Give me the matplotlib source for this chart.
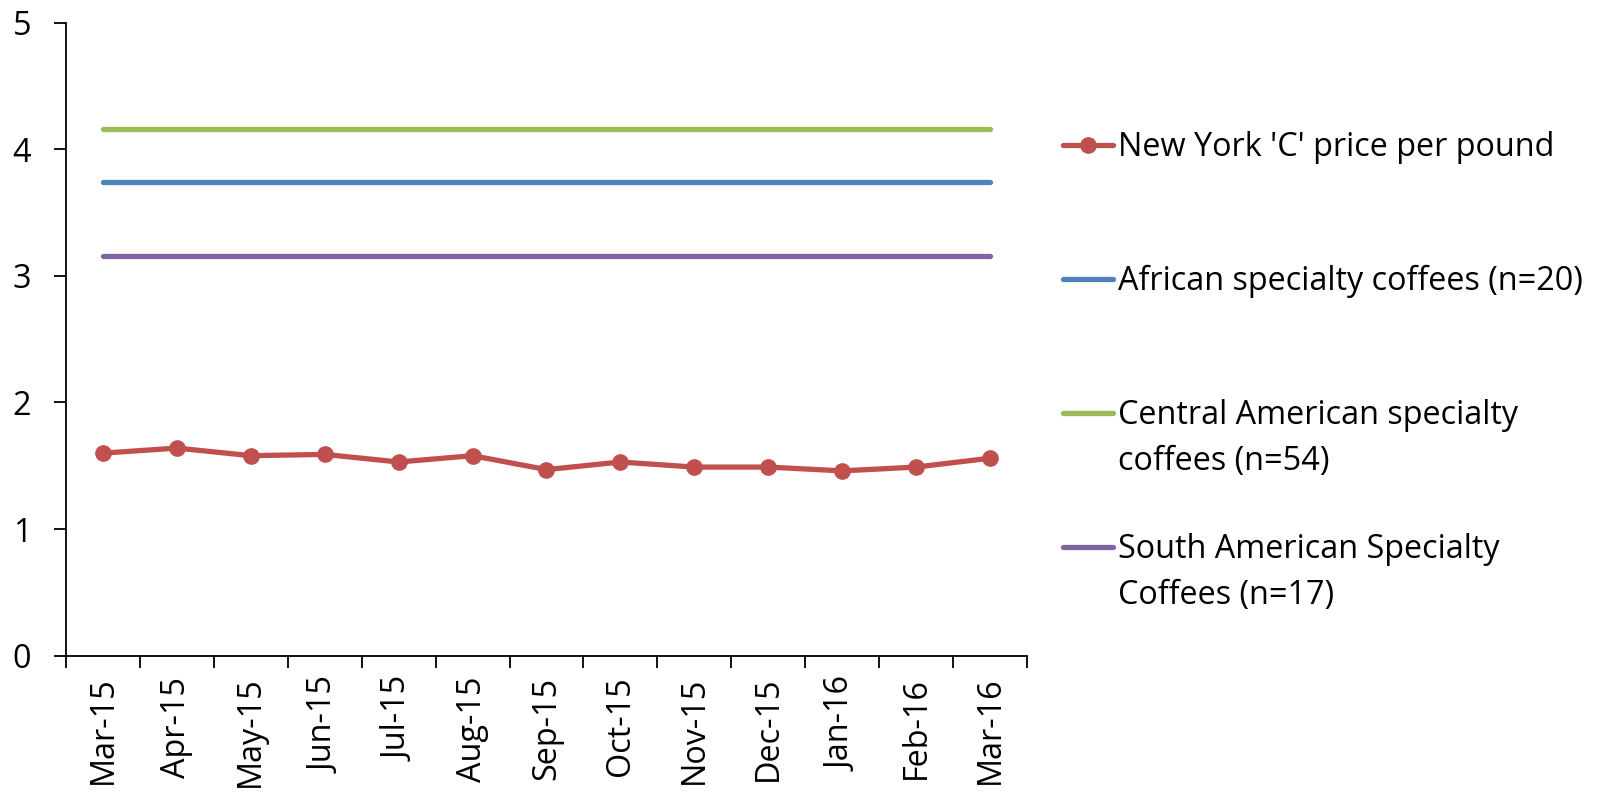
import matplotlib
matplotlib.use("Agg")
import matplotlib.pyplot as plt
from matplotlib.legend import Legend

# Monthly categories and prices (US$ per pound)
months = ["Mar-15", "Apr-15", "May-15", "Jun-15", "Jul-15", "Aug-15", "Sep-15",
          "Oct-15", "Nov-15", "Dec-15", "Jan-16", "Feb-16", "Mar-16"]
ny_c_price = [1.60, 1.64, 1.58, 1.59, 1.53, 1.58, 1.47, 1.53, 1.49, 1.49, 1.46, 1.49, 1.56]
african_price = 3.74
central_american_price = 4.16
south_american_price = 3.16

y_ticks = [0, 1, 2, 3, 4, 5]

series_labels = [
    ("New York 'C' price per pound", None),
    ("African specialty coffees (n=20)", None),
    ("Central American specialty", "coffees (n=54)"),
    ("South American Specialty", "Coffees (n=17)"),
]

RED, BLUE, GREEN, PURPLE = "#C0504D", "#4F81BD", "#9BBB59", "#8064A2"

plt.rcParams["font.family"] = ["Open Sans", "DejaVu Sans"]
FS = 23.3

W, H = 1608, 793
fig = plt.figure(figsize=(W / 100, H / 100), dpi=100)
ax = fig.add_axes([66 / W, 1 - 655.8 / H, (1027 - 66) / W, (655.8 - 22.5) / H])

x = list(range(len(months)))
lw = 3.8
(l_ny,) = ax.plot(x, ny_c_price, color=RED, lw=lw, marker="o", markersize=11,
                  solid_capstyle="round", solid_joinstyle="round", zorder=4)
(l_af,) = ax.plot(x, [african_price] * len(months), color=BLUE, lw=lw,
                  solid_capstyle="round", zorder=3)
(l_ca,) = ax.plot(x, [central_american_price] * len(months), color=GREEN, lw=lw,
                  solid_capstyle="round", zorder=3)
(l_sa,) = ax.plot(x, [south_american_price] * len(months), color=PURPLE, lw=lw,
                  solid_capstyle="round", zorder=3)

ax.set_xlim(-0.5, len(months) - 0.5)
ax.set_ylim(0, 5)

for side in ("top", "right"):
    ax.spines[side].set_visible(False)
for side in ("left", "bottom"):
    ax.spines[side].set_linewidth(1.3)
    ax.spines[side].set_color("black")

ax.set_yticks(y_ticks)
ax.set_yticklabels([str(v) for v in y_ticks])
ax.tick_params(axis="y", direction="out", length=8.6, width=1.3, pad=16.5,
               labelsize=FS, colors="black")

# category labels at centres, tick marks at category boundaries
ax.set_xticks(x)
ax.set_xticklabels(months, rotation=90)
ax.set_xticks([i - 0.5 for i in range(len(months) + 1)], minor=True)
ax.tick_params(axis="x", which="major", length=0, pad=15.0, labelsize=FS)
ax.tick_params(axis="x", which="minor", direction="out", length=8.6, width=1.3)

# legend: one entry per series, evenly spaced down the right side
handles = [l_ny, l_af, l_ca, l_sa]
entry_y = [147.7, 281.7, 416.0, 550.0]
for h, (first, second), yy in zip(handles, series_labels, entry_y):
    leg = Legend(ax, [h], [first], loc="center left",
                 bbox_to_anchor=(1063.2 / W, 1 - yy / H),
                 bbox_transform=fig.transFigure, frameon=False,
                 borderpad=0, borderaxespad=0, handlelength=1.55,
                 handletextpad=0.15, fontsize=FS)
    ax.add_artist(leg)
    if second:
        ax.annotate(second, xy=(0, 0), xycoords=leg.get_texts()[0],
                    xytext=(0, -45.7), textcoords="offset pixels",
                    ha="left", va="bottom", fontsize=FS,
                    annotation_clip=False, zorder=6)

fig.savefig("out.png", dpi=100, facecolor="white")
